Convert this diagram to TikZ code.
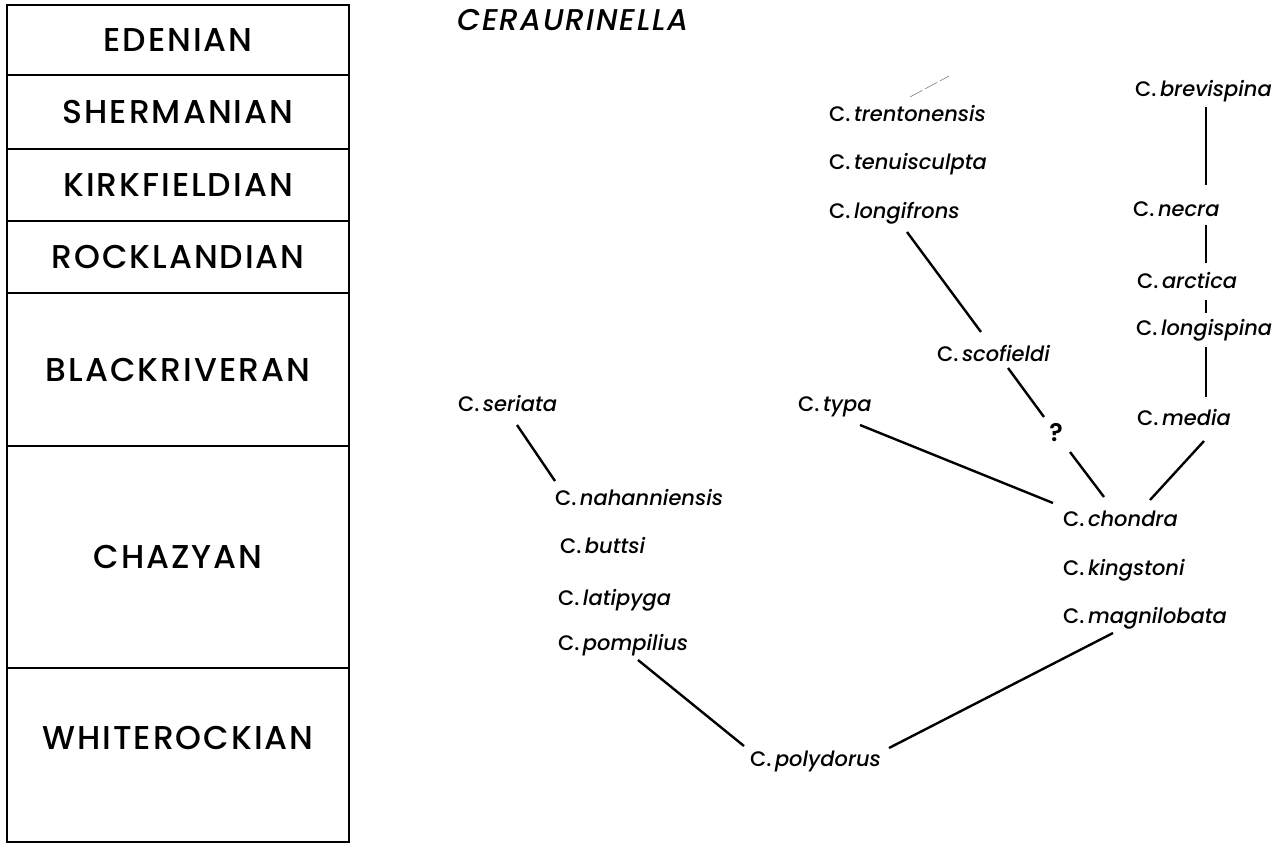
\documentclass[tikz,border=0pt]{standalone}
\usepackage{fontspec}
\setmainfont{Poppins}[UprightFont={Poppins Medium}, ItalicFont={Poppins Medium Italic}, BoldFont={Poppins SemiBold}]
\newfontfamily\capsfont{Poppins Medium}[LetterSpace=6.0]
\newfontfamily\capsitfont{Poppins Medium Italic}[LetterSpace=6.0]
\begin{document}
\begin{tikzpicture}[x=1pt,y=-1pt,
  period/.style={font=\capsfont\fontsize{33}{33}\selectfont, inner sep=0pt, anchor=center},
  sp/.style={font=\fontsize{21}{21}\selectfont, inner sep=0pt, anchor=base west},
  link/.style={line width=2.4pt, line cap=butt},
  frame/.style={line width=2pt}]
\useasboundingbox (0,0) rectangle (1286,846);
% stratigraphic column
\draw[frame] (7,5) rectangle (349,842);
\foreach \yy in {75,149,221,293,446,668} \draw[frame] (7,\yy) -- (349,\yy);
\node[period] (eden) at (178,40) {EDENIAN};
\node[period] (sher) at (178,112) {SHERMANIAN};
\node[period] (kirk) at (178,185) {KIRKFIELDIAN};
\node[period] (rock) at (178,257) {ROCKLANDIAN};
\node[period] (blac) at (178,370) {BLACKRIVERAN};
\node[period] (chaz) at (178,557) {CHAZYAN};
\node[period] (whit) at (178,738) {WHITEROCKIAN};
% title
\node[font=\capsitfont\fontsize{30}{30}\selectfont, inner sep=0pt, anchor=base west] (title) at (457,30) {CERAURINELLA};
% species
\node[sp] (tren) at (829,121) {C.\,\textit{trentonensis}};
\node[sp] (tenu) at (829,169) {C.\,\textit{tenuisculpta}};
\node[sp] (long) at (829,218) {C.\,\textit{longifrons}};
\node[sp] (brev) at (1135,96) {C.\,\textit{brevispina}};
\node[sp] (necr) at (1133,216) {C.\,\textit{necra}};
\node[sp] (arct) at (1137,288) {C.\,\textit{arctica}};
\node[sp] (lgsp) at (1136,335) {C.\,\textit{longispina}};
\node[sp] (medi) at (1137,425) {C.\,\textit{media}};
\node[sp] (scof) at (937,361) {C.\,\textit{scofieldi}};
\node[sp] (typa) at (798,411) {C.\,\textit{typa}};
\node[font=\fontsize{25}{25}\selectfont\bfseries, inner sep=0pt] (q) at (1056,433) {?};
\node[sp] (seri) at (458,411) {C.\,\textit{seriata}};
\node[sp] (naha) at (555,505) {C.\,\textit{nahanniensis}};
\node[sp] (butt) at (560,553) {C.\,\textit{buttsi}};
\node[sp] (lati) at (558,605) {C.\,\textit{latipyga}};
\node[sp] (pomp) at (558,650) {C.\,\textit{pompilius}};
\node[sp] (poly) at (750,766) {C.\,\textit{polydorus}};
\node[sp] (chon) at (1063,526) {C.\,\textit{chondra}};
\node[sp] (king) at (1063,575) {C.\,\textit{kingstoni}};
\node[sp] (magn) at (1063,623) {C.\,\textit{magnilobata}};
% connector end points
\coordinate (brevB) at (1206,107); \coordinate (necrT) at (1206,185);
\coordinate (necrB) at (1206,225); \coordinate (arctT) at (1206,263);
\coordinate (arctB) at (1206,300); \coordinate (lgspT) at (1206,313);
\coordinate (lgspB) at (1206,347); \coordinate (mediT) at (1206,397);
\coordinate (mediB) at (1204,441); \coordinate (chonR) at (1150,500);
\coordinate (qB) at (1070,452);    \coordinate (chonM) at (1104,497);
\coordinate (scofB) at (1008,368); \coordinate (qT) at (1044,417);
\coordinate (longB) at (907,232);  \coordinate (scofT) at (981,332);
\coordinate (typaB) at (860,425);  \coordinate (chonL) at (1053,503);
\coordinate (magnB) at (1113,633); \coordinate (polyR) at (889,748);
\coordinate (seriB) at (517,425);  \coordinate (nahaT) at (555,481);
\coordinate (pompB) at (638,660);  \coordinate (polyL) at (744,746);
\coordinate (trenA) at (910,97);   \coordinate (trenB) at (949,76);
% connectors
\draw[link] (brevB) -- (necrT);
\draw[link] (necrB) -- (arctT);
\draw[link] (arctB) -- (lgspT);
\draw[link] (lgspB) -- (mediT);
\draw[link] (mediB) -- (chonR);
\draw[link] (qB) -- (chonM);
\draw[link] (scofB) -- (qT);
\draw[link] (longB) -- (scofT);
\draw[link] (typaB) -- (chonL);
\draw[link] (magnB) -- (polyR);
\draw[link] (seriB) -- (nahaT);
\draw[link] (pompB) -- (polyL);
\draw[gray, line width=0.6pt, dash pattern=on 14pt off 3pt] (trenA) -- (trenB);
\end{tikzpicture}
\end{document}
